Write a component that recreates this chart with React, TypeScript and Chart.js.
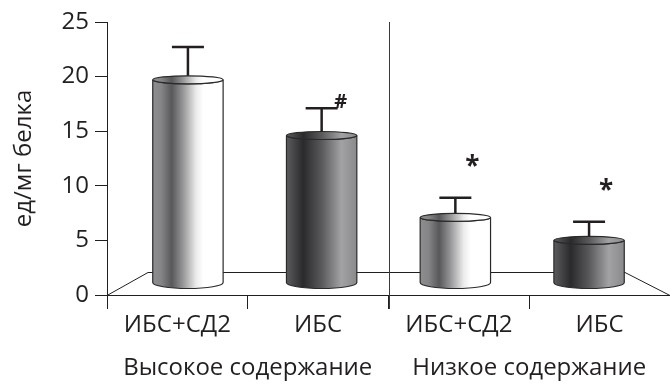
import React, { useEffect, useRef } from "react";
import { Chart, registerables } from "chart.js";

Chart.register(...registerables);

// Activity per mg of protein, two patient groups within high / low content
const categories = ["ИБС+СД2", "ИБС", "ИБС+СД2", "ИБС"];
const groups = ["Высокое содержание", "Низкое содержание"];
const values = [19.8, 14.7, 7.2, 5.1];
const errors = [2.9, 2.4, 1.7, 1.6];
const marks = ["", "#", "*", "*"];
const yMin = 0;
const yMax = 25;
const yStep = 5;
const yTitle = "ед/мг белка";

const FONT = "'Open Sans', sans-serif";
const INK = "#231f20";
const TEXT_SIZE = 24;

// shading of the cylinders: light for ИБС+СД2, dark for ИБС
const lightStops: [number, string][] = [
  [0, "#8e8e90"],
  [0.12, "#858587"],
  [0.27, "#58585a"],
  [0.42, "#929294"],
  [0.62, "#ececec"],
  [0.72, "#ffffff"],
  [1, "#ffffff"],
];
const darkStops: [number, string][] = [
  [0, "#5c5c5e"],
  [0.24, "#2a2a2c"],
  [0.5, "#59595b"],
  [0.78, "#a2a2a4"],
  [1, "#8a8a8c"],
];

// 3D floor / perspective look
const DEPTH_Y = 23;
const DEPTH_LEFT = 41;
const DEPTH_RIGHT = 45;
const PERSPECTIVE = 0.95;
const TOP_RY = 4;
const BOTTOM_RY = 6;
const BOTTOM_LIFT = 12;
const CAP_HALF = 16;

const cylinderPlugin = {
  id: "cylinders",
  beforeDatasetsDraw(chart: any) {
    const { ctx, chartArea } = chart;
    const { left, right, top, bottom } = chartArea;
    ctx.save();
    // floor of the plot
    ctx.strokeStyle = INK;
    ctx.lineWidth = 1;
    ctx.beginPath();
    ctx.moveTo(left, bottom + 0.5);
    ctx.lineTo(left + DEPTH_LEFT, bottom - DEPTH_Y + 0.5);
    ctx.lineTo(right - DEPTH_RIGHT, bottom - DEPTH_Y + 0.5);
    ctx.lineTo(right, bottom + 0.5);
    ctx.stroke();
    // divider between the two content groups
    const xs = chart.scales.x;
    const mid = (xs.getPixelForValue(1) + xs.getPixelForValue(2)) / 2;
    ctx.strokeStyle = "#3a3a3a";
    ctx.beginPath();
    ctx.moveTo(Math.round(mid) + 0.5, top);
    ctx.lineTo(Math.round(mid) + 0.5, bottom + 14);
    ctx.stroke();
    ctx.restore();
  },
  afterDatasetsDraw(chart: any) {
    const { ctx, chartArea } = chart;
    const ys = chart.scales.y;
    const cx = (chartArea.left + chartArea.right) / 2;
    const meta = chart.getDatasetMeta(0);
    ctx.save();
    meta.data.forEach((el: any, i: number) => {
      const p = el.getProps(["x", "y", "base", "width"], true);
      const xc = cx + (p.x - cx) * PERSPECTIVE;
      const half = p.width / 2;
      const xl = xc - half;
      const xr = xc + half;
      const yTop = p.y + 1;
      const yBot = p.base - BOTTOM_LIFT;
      const stops = i % 2 === 0 ? lightStops : darkStops;
      const grad = ctx.createLinearGradient(xl, 0, xr, 0);
      stops.forEach(([o, c]) => grad.addColorStop(o, c));

      // side of the cylinder
      ctx.beginPath();
      ctx.moveTo(xl, yTop);
      ctx.lineTo(xl, yBot);
      ctx.ellipse(xc, yBot, half, BOTTOM_RY, 0, Math.PI, 0, true);
      ctx.lineTo(xr, yTop);
      ctx.ellipse(xc, yTop, half, TOP_RY, 0, 0, Math.PI, false);
      ctx.closePath();
      ctx.fillStyle = grad;
      ctx.fill();
      ctx.strokeStyle = "#2a2a2a";
      ctx.lineWidth = 1.2;
      ctx.stroke();

      // top face
      ctx.beginPath();
      ctx.ellipse(xc, yTop, half, TOP_RY, 0, 0, Math.PI * 2);
      ctx.fillStyle = grad;
      ctx.fill();
      ctx.stroke();

      // error bar
      const yErr = ys.getPixelForValue(values[i] + errors[i]);
      ctx.strokeStyle = INK;
      ctx.lineWidth = 2.5;
      ctx.beginPath();
      ctx.moveTo(xc, yTop - TOP_RY);
      ctx.lineTo(xc, yErr);
      ctx.moveTo(xc - CAP_HALF, yErr);
      ctx.lineTo(xc + CAP_HALF, yErr);
      ctx.stroke();

      // significance marks
      const m = marks[i];
      if (m) {
        ctx.fillStyle = INK;
        ctx.textAlign = "center";
        ctx.textBaseline = "middle";
        if (m === "#") {
          ctx.font = `bold 20px ${FONT}`;
          ctx.fillText(m, xc + CAP_HALF + 3, yErr - 6);
        } else {
          ctx.font = `bold 26px ${FONT}`;
          ctx.fillText(m, xc + 17, yErr - 30);
        }
      }
    });
    ctx.restore();
  },
  afterDraw(chart: any) {
    const { ctx } = chart;
    const xs = chart.scales.x;
    ctx.save();
    ctx.fillStyle = INK;
    ctx.font = `${TEXT_SIZE}px ${FONT}`;
    ctx.textAlign = "center";
    ctx.textBaseline = "alphabetic";
    groups.forEach((g, gi) => {
      const a = xs.getPixelForValue(gi * 2);
      const b = xs.getPixelForValue(gi * 2 + 1);
      const w = b - a;
      const center = (a - w / 2 + b + w / 2) / 2;
      ctx.fillText(g, center, 375);
    });
    ctx.restore();
  },
};

export default function App() {
  const ref = useRef<HTMLCanvasElement | null>(null);

  useEffect(() => {
    document.body.style.margin = "0";
    const canvas = ref.current;
    if (!canvas) return;
    const chart = new Chart(canvas, {
      type: "bar",
      data: {
        labels: categories,
        datasets: [
          {
            data: values,
            backgroundColor: "rgba(0,0,0,0)",
            borderWidth: 0,
            barPercentage: 0.5,
            categoryPercentage: 1,
          },
        ],
      },
      plugins: [cylinderPlugin],
      options: {
        animation: false,
        responsive: false,
        devicePixelRatio: 1,
        layout: { padding: { top: 22, right: 0, left: 0, bottom: 0 } },
        plugins: {
          legend: { display: false },
          tooltip: { enabled: false },
        },
        scales: {
          x: {
            afterFit: (s: any) => {
              s.height = 90;
            },
            grid: {
              drawOnChartArea: false,
              offset: true,
              tickLength: 14,
              color: INK,
              tickColor: INK,
            },
            border: { color: INK, width: 1 },
            ticks: {
              color: INK,
              font: { family: FONT, size: TEXT_SIZE },
              padding: 2,
              maxRotation: 0,
            },
          },
          y: {
            min: yMin,
            max: yMax,
            afterFit: (s: any) => {
              s.width = 107;
            },
            grid: {
              drawOnChartArea: false,
              tickLength: 12,
              color: INK,
              tickColor: INK,
            },
            border: { color: INK, width: 1 },
            ticks: {
              stepSize: yStep,
              color: INK,
              font: { family: FONT, size: TEXT_SIZE },
              padding: 6,
            },
            title: {
              display: true,
              text: yTitle,
              color: INK,
              font: { family: FONT, size: TEXT_SIZE },
              padding: { top: 10, bottom: 0 },
            },
          },
        },
      },
    });
    return () => chart.destroy();
  }, []);

  return (
    <div style={{ width: 670, height: 385, background: "#fff" }}>
      <canvas ref={ref} width={670} height={385} style={{ display: "block" }} />
    </div>
  );
}
